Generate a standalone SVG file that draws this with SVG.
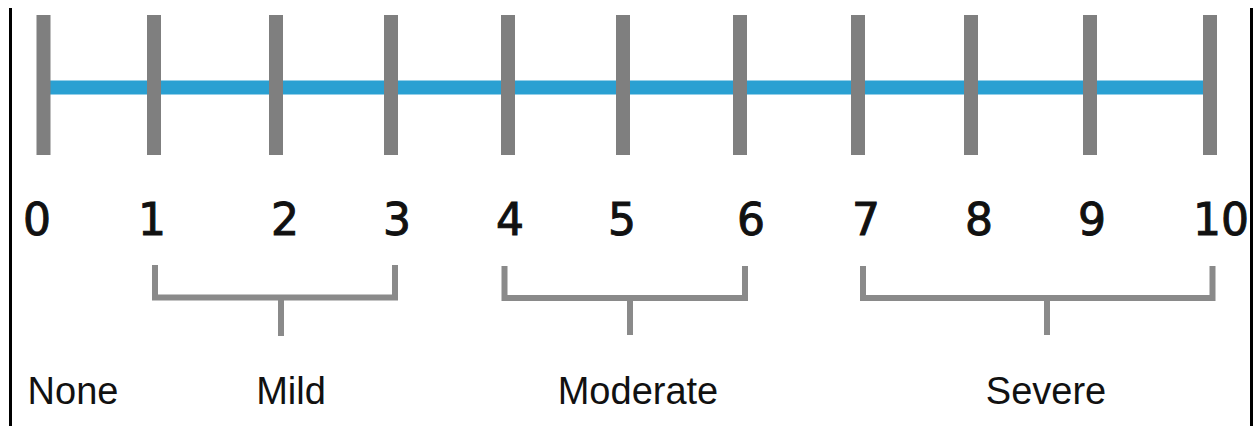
<svg xmlns="http://www.w3.org/2000/svg" width="1255" height="426" viewBox="0 0 1255 426">
<style>
.tick{stroke:#7f7f7f;stroke-width:14;}
.bar{stroke:#2aa0d2;stroke-width:14;}
.brk{fill:none;stroke:#8a8a8a;stroke-width:6;}
.num{font-family:"DejaVu Sans",sans-serif;font-size:44px;fill:#111;stroke:#111;stroke-width:1;text-anchor:middle;}
.lbl{font-family:"Liberation Sans",Arial,sans-serif;font-size:38px;fill:#111;text-anchor:middle;}
.frame{stroke:#000;stroke-width:3;}
</style>
<rect width="1255" height="426" fill="#fff"/>
<line class="frame" x1="10.5" y1="8" x2="10.5" y2="426"/>
<line class="frame" x1="1251.5" y1="8" x2="1251.5" y2="426"/>
<g id="connectors">
<line class="bar" x1="43" y1="87.5" x2="1210" y2="87.5"/>
</g>
<g id="ticks">
<line class="tick" x1="43.5" y1="15" x2="43.5" y2="155"/>
<line class="tick" x1="154" y1="15" x2="154" y2="155"/>
<line class="tick" x1="276" y1="15" x2="276" y2="155"/>
<line class="tick" x1="391" y1="15" x2="391" y2="155"/>
<line class="tick" x1="508" y1="15" x2="508" y2="155"/>
<line class="tick" x1="623" y1="15" x2="623" y2="155"/>
<line class="tick" x1="740" y1="15" x2="740" y2="155"/>
<line class="tick" x1="858" y1="15" x2="858" y2="155"/>
<line class="tick" x1="971" y1="15" x2="971" y2="155"/>
<line class="tick" x1="1090" y1="15" x2="1090" y2="155"/>
<line class="tick" x1="1210" y1="15" x2="1210" y2="155"/>
</g>
<g id="numbers">
<text class="num" x="37" y="235">0</text>
<text class="num" x="152" y="235">1</text>
<text class="num" x="285" y="235">2</text>
<text class="num" x="397" y="235">3</text>
<text class="num" x="510" y="235">4</text>
<text class="num" x="622" y="235">5</text>
<text class="num" x="751" y="235">6</text>
<text class="num" x="866" y="235">7</text>
<text class="num" x="979" y="235">8</text>
<text class="num" x="1092" y="235">9</text>
<text class="num" x="1221" y="235">10</text>
</g>
<g id="none"><text class="lbl" x="73" y="404">None</text></g>
<g id="mild">
<path class="brk" d="M155 265 V297.5 H395 V265 M281 297.5 V336"/>
<text class="lbl" x="291" y="404">Mild</text>
</g>
<g id="moderate">
<path class="brk" d="M504.5 266 V298 H745 V266 M630 298 V335"/>
<text class="lbl" x="638" y="404">Moderate</text>
</g>
<g id="severe">
<path class="brk" d="M863 266 V298 H1212.5 V266 M1047 298 V335"/>
<text class="lbl" x="1046" y="404">Severe</text>
</g>
</svg>
